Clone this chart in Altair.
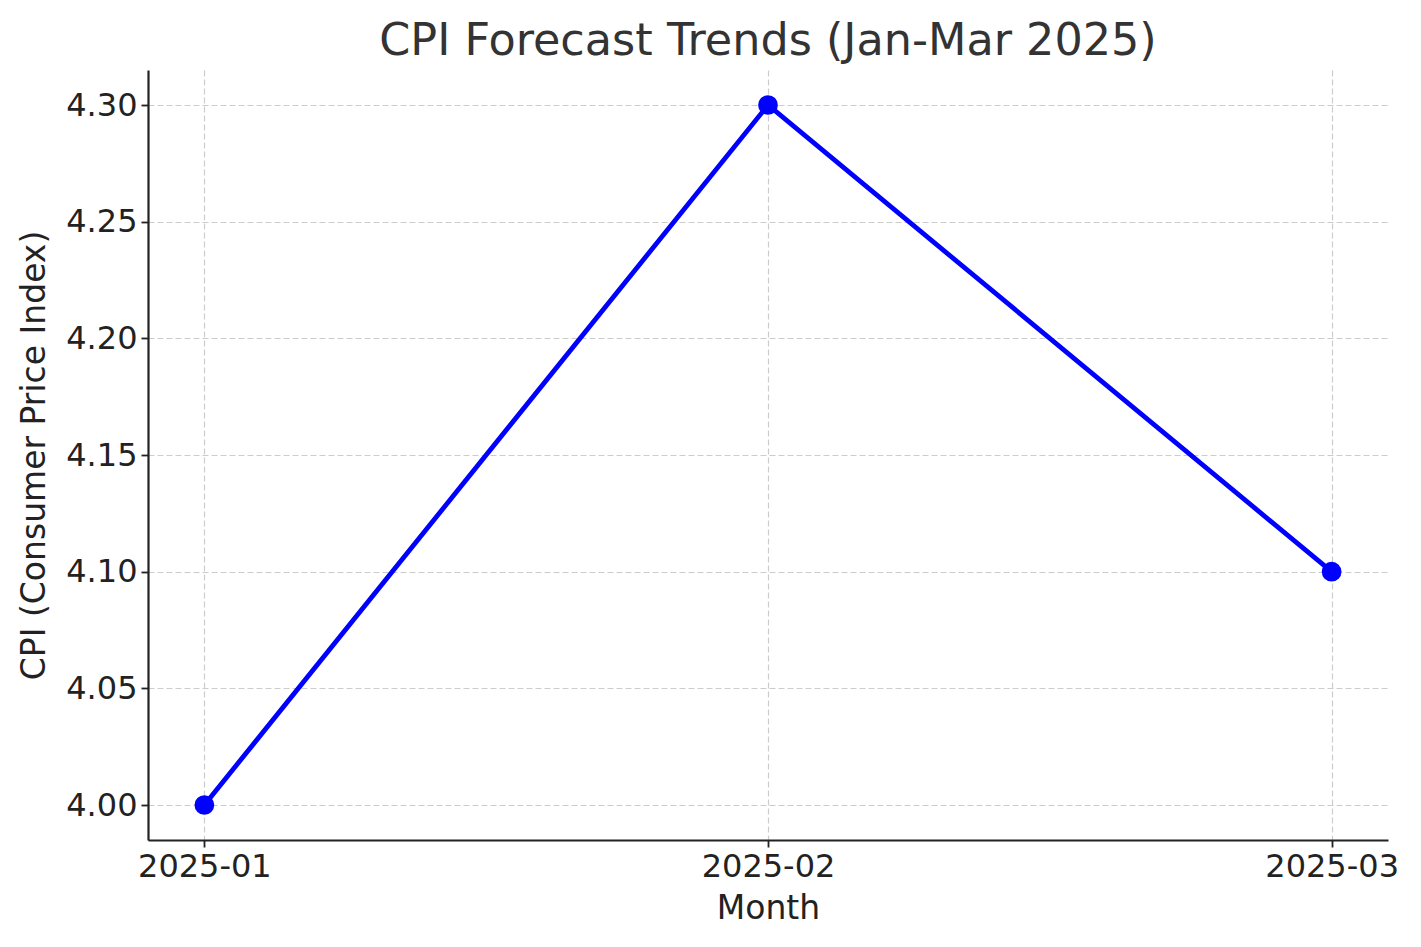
import altair as alt
import pandas as pd

months = ["2025-01", "2025-02", "2025-03"]
cpi = [4.00, 4.30, 4.10]
y_ticks = [4.00, 4.05, 4.10, 4.15, 4.20, 4.25, 4.30]

df = pd.DataFrame({"Month": months, "CPI": cpi})

FONT = "DejaVu Sans"
INK = "#222222"

common_axis = dict(
    labelFontSize=32,
    titleFontSize=33,
    labelColor=INK,
    titleColor=INK,
    labelFont=FONT,
    titleFont=FONT,
    titleFontWeight="normal",
    tickSize=7,
    tickColor=INK,
    tickWidth=1.8,
    domainColor=INK,
    domainWidth=2.2,
    grid=True,
    gridColor="#cccccc",
    gridDash=[6, 3],
    gridWidth=1.2,
)

x_enc = alt.X(
    "Month:N",
    sort=months,
    scale=alt.Scale(type="point", padding=0.1),
    axis=alt.Axis(
        title="Month",
        labelAngle=0,
        labelPadding=4,
        titlePadding=10,
        **common_axis,
    ),
)

y_enc = alt.Y(
    "CPI:Q",
    scale=alt.Scale(domain=[3.985, 4.315], nice=False, zero=False),
    axis=alt.Axis(
        title="CPI (Consumer Price Index)",
        values=y_ticks,
        format=".2f",
        labelPadding=4,
        titlePadding=14,
        **common_axis,
    ),
)

base = alt.Chart(df).encode(x=x_enc, y=y_enc)

line = base.mark_line(color="#0000ff", strokeWidth=4.8)
points = base.mark_point(color="#0000ff", filled=True, opacity=1, size=390)

chart = (
    alt.layer(line, points)
    .properties(
        width=1240,
        height=770,
        view=alt.ViewBackground(stroke="transparent", strokeWidth=0, strokeOpacity=0),
        title=alt.TitleParams(
            "CPI Forecast Trends (Jan-Mar 2025)",
            fontSize=44.5,
            font=FONT,
            fontWeight="normal",
            color="#333333",
            anchor="middle",
            offset=6,
        ),
        autosize=alt.AutoSizeParams(type="none"),
        padding={"left": 140, "top": 62, "right": 25, "bottom": 90},
    )
    .configure_view(strokeWidth=0, stroke="transparent")
    .configure(background="white")
)

chart.save("out.html", embed_options={"renderer": "svg", "actions": False})
